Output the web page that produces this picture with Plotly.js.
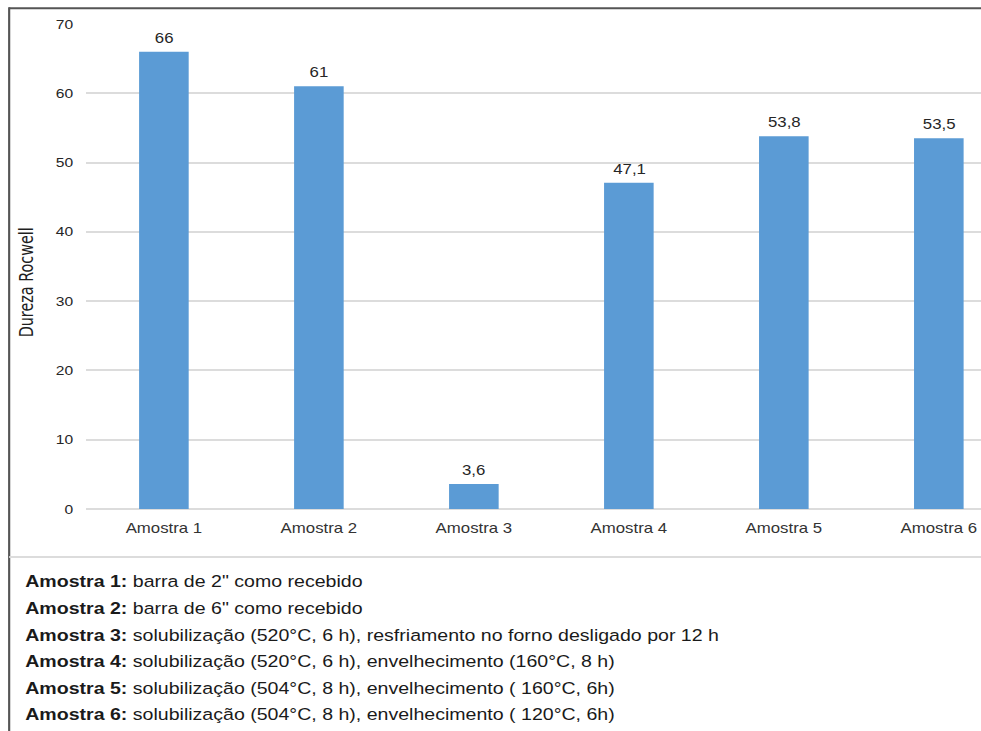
<!DOCTYPE html>
<html>
<head>
<meta charset="utf-8">
<script src="https://cdn.plot.ly/plotly-3.0.1.min.js"></script>
<style>
  html, body { margin: 0; padding: 0; background: #ffffff; overflow: hidden; }
  #wrap { width: 981px; height: 731px; overflow: hidden; }
  /* the figure is laid out narrower and widened horizontally */
  #grafico { width: 817.5px; height: 731px; transform: scaleX(1.2); transform-origin: 0 0; }
</style>
</head>
<body>
<div id="wrap"><div id="grafico"></div></div>
<script>
// Dureza Rockwell por amostra
const categorias = ['Amostra 1', 'Amostra 2', 'Amostra 3', 'Amostra 4', 'Amostra 5', 'Amostra 6'];
const dureza = [66, 61, 3.6, 47.1, 53.8, 53.5];
const yTicks = [0, 10, 20, 30, 40, 50, 60, 70];

// legenda descritiva das amostras
const legendaRotulos = ['Amostra 1:', 'Amostra 2:', 'Amostra 3:', 'Amostra 4:', 'Amostra 5:', 'Amostra 6:'];
const legendaDescricoes = [
  'barra de 2" como recebido',
  'barra de 6" como recebido',
  'solubilização (520°C, 6 h), resfriamento no forno desligado por 12 h',
  'solubilização (520°C, 6 h), envelhecimento (160°C, 8 h)',
  'solubilização (504°C, 8 h), envelhecimento ( 160°C, 6h)',
  'solubilização (504°C, 8 h), envelhecimento ( 120°C, 6h)'
];

const fonte = '"Liberation Sans", Arial, Helvetica, sans-serif';
const fonteEstreita = '"Liberation Sans Narrow", "Arial Narrow", "DejaVu Sans Condensed", sans-serif';

// geometria (px no sistema local do gráfico)
const margemEsq = 72.2, margemTopo = 24, alturaPlot = 485.5, larguraPlot = 745.3;
const px2x = function (px) { return (px - margemEsq) / larguraPlot; };
const py2y = function (py) { return (margemTopo + alturaPlot - py) / alturaPlot; };

const barras = {
  type: 'bar',
  x: categorias,
  y: dureza,
  marker: { color: '#5b9bd5' },
  hoverinfo: 'x+y'
};

const anotacoes = [];

// valores acima das barras
dureza.forEach(function (v, i) {
  anotacoes.push({
    xref: 'x', yref: 'y', x: categorias[i], y: v,
    text: String(v).replace('.', ','),
    showarrow: false, xanchor: 'center', yanchor: 'bottom', yshift: 4,
    font: { family: fonte, size: 14, color: '#262626' }
  });
});

// título do eixo vertical
anotacoes.push({
  xref: 'paper', yref: 'paper', x: px2x(22.9), y: py2y(283),
  text: 'Dureza Rocwell', textangle: -90, showarrow: false,
  xanchor: 'center', yanchor: 'middle',
  font: { family: fonteEstreita, size: 16, color: '#1f1f1f' }
});

// linhas da legenda descritiva
legendaRotulos.forEach(function (r, i) {
  anotacoes.push({
    xref: 'paper', yref: 'paper', x: px2x(19.3), y: py2y(582 + i * 26.6),
    text: '<b>' + r + '</b> ' + legendaDescricoes[i],
    showarrow: false, xanchor: 'left', yanchor: 'middle', align: 'left',
    font: { family: fonte, size: 16.3, color: '#1a1a1a' }
  });
});

const xBorda = px2x(7.9);
const formas = [
  // moldura esquerda
  { type: 'line', xref: 'paper', yref: 'paper', x0: xBorda, x1: xBorda, y0: py2y(7.2), y1: py2y(740),
    line: { color: '#555555', width: 1.8 } },
  // moldura superior
  { type: 'line', xref: 'paper', yref: 'paper', x0: xBorda, x1: 1.05, y0: py2y(8.2), y1: py2y(8.2),
    line: { color: '#555555', width: 2 } },
  // separador da legenda
  { type: 'line', xref: 'paper', yref: 'paper', x0: xBorda, x1: 1.05, y0: py2y(557.5), y1: py2y(557.5),
    line: { color: '#dcdcdc', width: 2 } }
];

const layout = {
  width: 817.5,
  height: 731,
  margin: { l: margemEsq, r: 0, t: margemTopo, b: 731 - margemTopo - alturaPlot, pad: 0 },
  paper_bgcolor: '#ffffff',
  plot_bgcolor: '#ffffff',
  showlegend: false,
  bargap: 0.68,
  font: { family: fonte, color: '#333333' },
  xaxis: {
    type: 'category',
    range: [-0.5, 5.276],
    showgrid: false,
    showline: false,
    zeroline: false,
    ticks: '',
    ticklabelstandoff: 9,
    tickfont: { family: fonte, size: 14, color: '#333333' },
    fixedrange: true
  },
  yaxis: {
    range: [0, 70],
    tickvals: yTicks,
    ticktext: yTicks.map(String),
    showgrid: true,
    gridcolor: '#dcdcdc',
    gridwidth: 1.5,
    zeroline: true,
    zerolinecolor: '#dcdcdc',
    zerolinewidth: 1.5,
    showline: false,
    ticks: '',
    ticklabelstandoff: 10,
    tickfont: { family: fonte, size: 13, color: '#262626' },
    fixedrange: true
  },
  annotations: anotacoes,
  shapes: formas
};

Plotly.newPlot('grafico', [barras], layout, { displayModeBar: false, staticPlot: false });
</script>
</body>
</html>
